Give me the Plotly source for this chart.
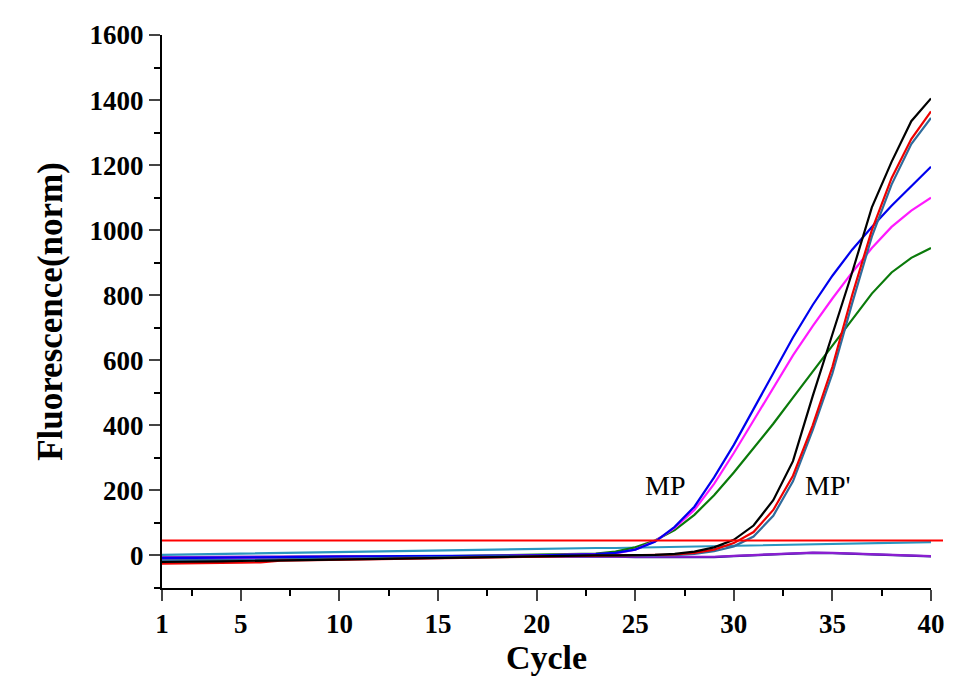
import plotly.graph_objects as go

cycles = list(range(1, 41))

# amplification curves (fluorescence, normalised)
mp_blue = [-8, -8, -7, -7, -6, -6, -5, -5, -4, -4, -3, -3, -2, -2, -1, -1, 0, 0, 0, 0,
           1, 2, 4, 8, 18, 42, 88, 150, 240, 340, 450, 560, 670, 770, 860, 940, 1010, 1075, 1135, 1195]
mp_magenta = [-10, -10, -9, -9, -8, -8, -7, -7, -6, -6, -5, -5, -4, -3, -3, -2, -1, -1, 0, 0,
              1, 2, 3, 6, 18, 44, 85, 140, 220, 315, 415, 515, 615, 705, 790, 870, 945, 1010, 1060, 1100]
mp_green = [-12, -12, -11, -11, -10, -10, -9, -9, -8, -8, -7, -6, -5, -5, -4, -3, -2, -1, 0, 1,
            2, 3, 6, 12, 25, 46, 78, 125, 185, 255, 330, 405, 485, 565, 645, 725, 805, 870, 915, 945]
mpp_black = [-20, -20, -19, -18, -17, -16, -14, -13, -12, -11, -10, -9, -8, -7, -6, -5, -4, -3, -2, -1,
             -1, 0, 0, 0, 0, 2, 5, 12, 25, 48, 92, 170, 290, 490, 680, 870, 1070, 1210, 1335, 1405]
mpp_red = [-25, -25, -24, -23, -22, -21, -16, -15, -14, -13, -12, -11, -10, -9, -8, -7, -6, -5, -4, -3,
           -3, -2, -2, -1, 0, 1, 3, 8, 18, 38, 72, 140, 245, 400, 580, 800, 1000, 1160, 1280, 1365]
mpp_steel = [-15, -15, -14, -14, -13, -13, -12, -12, -11, -10, -9, -8, -8, -7, -6, -5, -4, -3, -3, -2,
             -2, -1, -1, 0, 0, 0, 1, 5, 13, 28, 58, 122, 228, 385, 560, 775, 980, 1140, 1265, 1345]
ctrl_teal = [2, 3, 4, 5, 6, 7, 8, 9, 10, 11, 12, 13, 14, 15, 16, 17, 18, 19, 20, 21,
             22, 22, 23, 23, 24, 25, 26, 27, 28, 29, 31, 32, 33, 34, 35, 36, 37, 38, 40, 41]
ctrl_purple = [-5, -5, -4, -4, -4, -4, -3, -3, -3, -2, -2, -2, -2, -1, -1, -1, -1, -1, -1, -2,
               -2, -3, -3, -4, -4, -5, -5, -5, -4, -1, 2, 5, 7, 9, 8, 6, 4, 2, 0, -2]
ctrl_navy = [-7, -7, -6, -6, -5, -5, -5, -4, -4, -4, -3, -3, -3, -2, -2, -2, -2, -2, -2, -2,
             -3, -3, -4, -4, -5, -5, -6, -6, -5, -2, 1, 4, 6, 8, 7, 5, 3, 1, -1, -3]

threshold = 46

x_ticks = [1, 5, 10, 15, 20, 25, 30, 35, 40]
x_minor = [2.5, 7.5, 12.5, 17.5, 22.5, 27.5, 32.5, 37.5]
y_ticks = [0, 200, 400, 600, 800, 1000, 1200, 1400, 1600]
y_minor = [-100, 100, 300, 500, 700, 900, 1100, 1300, 1500]

series = [
    (ctrl_navy, "#1a1a8c"),
    (ctrl_purple, "#8a1fd0"),
    (ctrl_teal, "#2a96c0"),
    (mp_green, "#0a7a0a"),
    (mp_magenta, "#ff1aff"),
    (mp_blue, "#0000ee"),
    (mpp_steel, "#2f6c9c"),
    (mpp_red, "#ee0000"),
    (mpp_black, "#000000"),
]

serif = "Liberation Serif, Times New Roman, serif"

fig = go.Figure()
for vals, col in series:
    fig.add_trace(go.Scatter(x=cycles, y=vals, mode="lines",
                             line=dict(color=col, width=2.2), showlegend=False))

# threshold line runs a little past the last cycle
y_lo, y_hi = -100, 1600
fig.add_shape(type="line", xref="paper", yref="paper",
              x0=0, x1=1.0156,
              y0=(threshold - y_lo) / (y_hi - y_lo), y1=(threshold - y_lo) / (y_hi - y_lo),
              line=dict(color="#ff0000", width=2))

fig.add_annotation(x=26.5, y=214, text="MP", showarrow=False,
                   font=dict(family=serif, size=28, color="black"))
fig.add_annotation(x=34.8, y=214, text="MP'", showarrow=False,
                   font=dict(family=serif, size=28, color="black"))

# page body adds an 8px offset, so the figure is a bit smaller than the window
fig.update_layout(
    width=966, height=679,
    margin=dict(l=154, r=43, t=20, b=99),
    paper_bgcolor="white", plot_bgcolor="white",
    font=dict(family=serif, color="black"),
)
fig.update_xaxes(
    range=[1, 40], tickvals=x_ticks, ticks="outside", ticklen=11, tickwidth=2,
    showline=True, linewidth=2, linecolor="black", showgrid=False, zeroline=False,
    tickfont=dict(family=serif, size=27, weight="bold"),
    minor=dict(tickvals=x_minor, ticks="outside", ticklen=6, tickwidth=2, tickcolor="black"),
    title=dict(text="Cycle", font=dict(family=serif, size=34, weight="bold"), standoff=4),
)
fig.update_yaxes(
    range=[y_lo, y_hi], tickvals=y_ticks, ticks="outside", ticklen=11, tickwidth=2,
    showline=True, linewidth=2, linecolor="black", showgrid=False, zeroline=False,
    tickfont=dict(family=serif, size=27, weight="bold"),
    minor=dict(tickvals=y_minor, ticks="outside", ticklen=6, tickwidth=2, tickcolor="black"),
    title=dict(text="Fluorescence(norm)", font=dict(family=serif, size=35, weight="bold"), standoff=16),
)

fig.write_html("out.html")
